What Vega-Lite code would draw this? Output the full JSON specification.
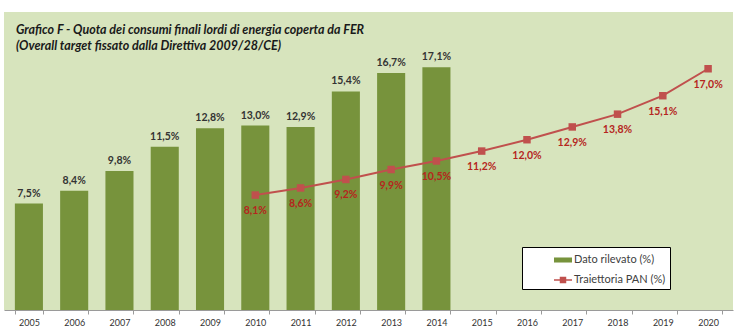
{
  "$schema": "https://vega.github.io/schema/vega-lite/v6.json",
  "width": 729,
  "height": 298,
  "autosize": {"type": "none"},
  "padding": {"left": 4, "right": 7, "top": 12, "bottom": 20},
  "background": "#ffffff",
  "title": {
    "text": ["Grafico F -  Quota dei consumi finali lordi di energia coperta da FER", "(Overall target fissato dalla Direttiva 2009/28/CE)"],
    "anchor": "start",
    "frame": "group",
    "orient": "top",
    "offset": -40,
    "dx": 12,
    "font": "Lato",
    "fontSize": 12.5,
    "fontWeight": "bold",
    "fontStyle": "italic",
    "color": "#1a1a1a",
    "lineHeight": 16
  },
  "datasets": {
    "dato": [
      {"anno": "2005", "valore": 7.5, "serie": "Dato rilevato (%)"},
      {"anno": "2006", "valore": 8.4, "serie": "Dato rilevato (%)"},
      {"anno": "2007", "valore": 9.8, "serie": "Dato rilevato (%)"},
      {"anno": "2008", "valore": 11.5, "serie": "Dato rilevato (%)"},
      {"anno": "2009", "valore": 12.8, "serie": "Dato rilevato (%)"},
      {"anno": "2010", "valore": 13.0, "serie": "Dato rilevato (%)"},
      {"anno": "2011", "valore": 12.9, "serie": "Dato rilevato (%)"},
      {"anno": "2012", "valore": 15.4, "serie": "Dato rilevato (%)"},
      {"anno": "2013", "valore": 16.7, "serie": "Dato rilevato (%)"},
      {"anno": "2014", "valore": 17.1, "serie": "Dato rilevato (%)"}
    ],
    "pan": [
      {"anno": "2010", "valore": 8.1, "serie": "Traiettoria PAN (%)"},
      {"anno": "2011", "valore": 8.6, "serie": "Traiettoria PAN (%)"},
      {"anno": "2012", "valore": 9.2, "serie": "Traiettoria PAN (%)"},
      {"anno": "2013", "valore": 9.9, "serie": "Traiettoria PAN (%)"},
      {"anno": "2014", "valore": 10.5, "serie": "Traiettoria PAN (%)"},
      {"anno": "2015", "valore": 11.2, "serie": "Traiettoria PAN (%)"},
      {"anno": "2016", "valore": 12.0, "serie": "Traiettoria PAN (%)"},
      {"anno": "2017", "valore": 12.9, "serie": "Traiettoria PAN (%)"},
      {"anno": "2018", "valore": 13.8, "serie": "Traiettoria PAN (%)"},
      {"anno": "2019", "valore": 15.1, "serie": "Traiettoria PAN (%)"},
      {"anno": "2020", "valore": 17.0, "serie": "Traiettoria PAN (%)"}
    ]
  },
  "encoding": {
    "x": {
      "field": "anno",
      "type": "nominal",
      "sort": null,
      "scale": {
        "domain": ["2005","2006","2007","2008","2009","2010","2011","2012","2013","2014","2015","2016","2017","2018","2019","2020"],
        "paddingInner": 0.38,
        "paddingOuter": 0.24
      },
      "axis": {
        "title": null,
        "labelAngle": 0,
        "labelFont": "Lato",
        "labelFontSize": 9,
        "labelColor": "#333333",
        "labelPadding": 4,
        "tickBand": "extent",
        "tickSize": 4,
        "tickColor": "#9a9a9a",
        "domainColor": "#9a9a9a",
        "grid": false
      }
    },
    "y": {
      "field": "valore",
      "type": "quantitative",
      "scale": {"domain": [0, 21]},
      "axis": null
    }
  },
  "layer": [
    {
      "data": {"name": "dato"},
      "mark": {"type": "bar"},
      "encoding": {
        "color": {
          "field": "serie",
          "type": "nominal",
          "scale": {"domain": ["Dato rilevato (%)", "Traiettoria PAN (%)"], "range": ["#77933c", "#c0504d"]},
          "legend": {
            "title": null,
            "orient": "none",
            "legendX": 518,
            "legendY": 235,
            "fillColor": "#ffffff",
            "strokeColor": "#000000",
            "padding": 4,
            "rowPadding": 6,
            "symbolOffset": 28,
            "symbolSize": 324,
            "labelFont": "Lato",
            "labelFontSize": 11,
            "labelColor": "#404040",
            "labelOffset": 2,
            "labelExpr": "datum.label + '              '",
            "encode": {
              "symbols": {
                "update": {
                  "shape": {"signal": "datum.value === 'Dato rilevato (%)' ? 'M-1,-0.28H1V0.28H-1Z' : 'M-1,-0.08H1V0.08H-1Z M-0.36,-0.36H0.36V0.36H-0.36Z'"},
                  "fill": {"scale": "color", "field": "value"},
                  "stroke": {"value": "transparent"},
                  "strokeWidth": {"value": 0},
                  "opacity": {"value": 1},
                  "size": {"value": 324}
                }
              }
            }
          }
        }
      }
    },
    {
      "data": {"name": "dato"},
      "transform": [{"calculate": "replace(format(datum.valore, '.1f'), '.', ',') + '%'", "as": "etichetta"}],
      "mark": {"type": "text", "dy": -10, "baseline": "middle", "font": "Lato", "fontSize": 10.5, "fontWeight": "bold", "color": "#333333"},
      "encoding": {"text": {"field": "etichetta"}}
    },
    {
      "data": {"name": "pan"},
      "mark": {"type": "line", "strokeWidth": 2, "point": {"shape": "square", "size": 56, "filled": true}},
      "encoding": {
        "color": {"field": "serie", "type": "nominal"}
      }
    },
    {
      "data": {"name": "pan"},
      "transform": [{"calculate": "replace(format(datum.valore, '.1f'), '.', ',') + '%'", "as": "etichetta"}],
      "mark": {"type": "text", "dy": 16, "baseline": "middle", "font": "Lato", "fontSize": 10.5, "fontWeight": "bold", "color": "#b5261e"},
      "encoding": {"text": {"field": "etichetta"}}
    }
  ],
  "config": {
    "view": {"fill": "#d7e4bd", "stroke": null}
  }
}
